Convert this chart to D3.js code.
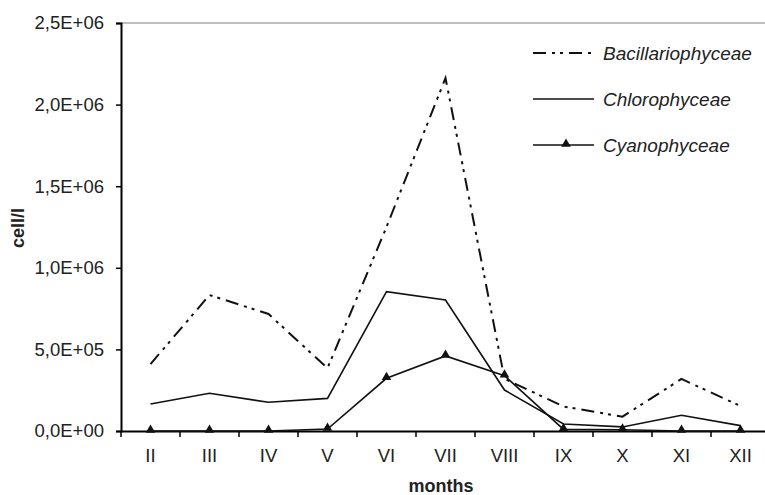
<!DOCTYPE html>
<html><head><meta charset="utf-8">
<script src="https://cdn.jsdelivr.net/npm/d3@7"></script>
<style>body{margin:0;background:#fff}svg{display:block}text{font-family:"Liberation Sans",Arial,sans-serif}</style>
</head><body>
<svg id="c" width="765" height="495"></svg>
<script>
const months = ["II","III","IV","V","VI","VII","VIII","IX","X","XI","XII"];
const bacillariophyceae = [410000, 833000, 717000, 385000, 1250000, 2163000, 320000, 150000, 88000, 319000, 153000];
const chlorophyceae = [165000, 231000, 176000, 200000, 854000, 803000, 251000, 43000, 25000, 96000, 33000];
const cyanophyceae = [0, 0, 0, 12000, 323000, 460000, 339000, 10000, 8000, 0, 0];
const yTicks = [0, 500000, 1000000, 1500000, 2000000, 2500000];
const yTickLabels = ["0,0E+00","5,0E+05","1,0E+06","1,5E+06","2,0E+06","2,5E+06"];
const seriesNames = ["Bacillariophyceae","Chlorophyceae","Cyanophyceae"];

const svg = d3.select("#c");
const L = 121, R = 770, T = 23, B = 431;
const FONT = "Liberation Sans, Arial, sans-serif";
const x = d3.scaleBand().domain(months).range([L, R]);
const y = d3.scaleLinear().domain([0, 2500000]).range([B, T]);

// top border
svg.append("line").attr("x1", L).attr("x2", 765).attr("y1", T).attr("y2", T)
  .attr("stroke", "#aaa").attr("stroke-width", 1.5);

// y axis
const ya = svg.append("g").attr("transform", `translate(${L},0)`)
  .call(d3.axisLeft(y).tickValues(yTicks).tickFormat((d,i)=>yTickLabels[i]).tickSize(5).tickPadding(12));
ya.select(".domain").attr("stroke","#000").attr("stroke-width",2);
ya.selectAll(".tick line").attr("stroke","#000").attr("stroke-width",1.5);
ya.selectAll("text").attr("font-size",18.5).attr("fill","#222").attr("font-family",FONT);

// x axis
const xa = svg.append("g").attr("transform", `translate(0,${B})`)
  .call(d3.axisBottom(x).tickSize(0).tickPadding(18));
xa.select(".domain").attr("stroke","#000").attr("stroke-width",2.2);
xa.selectAll("text").attr("font-size",18.5).attr("fill","#222").attr("font-family",FONT);
// boundary ticks
svg.append("g").selectAll("line").data(months.concat(["end"])).join("line")
  .attr("x1",(d,i)=> i < months.length ? x(d) : x(months[months.length-1]) + x.bandwidth())
  .attr("x2",(d,i)=> i < months.length ? x(d) : x(months[months.length-1]) + x.bandwidth())
  .attr("y1",B).attr("y2",B+6).attr("stroke","#000").attr("stroke-width",1.5);

const cx = d => x(d) + x.bandwidth()/2;
const line = d3.line().x((d,i)=>cx(months[i])).y(d=>y(d));

const dashPat = "13,6,3,5,3,6";
svg.append("path").datum(bacillariophyceae).attr("d", line).attr("fill","none")
  .attr("stroke","#111").attr("stroke-width",2).attr("stroke-dasharray", dashPat);
svg.append("path").datum(chlorophyceae).attr("d", line).attr("fill","none")
  .attr("stroke","#111").attr("stroke-width",1.6);
svg.append("path").datum(cyanophyceae).attr("d", line).attr("fill","none")
  .attr("stroke","#111").attr("stroke-width",1.6);
const tri = d3.symbol().type(d3.symbolTriangle).size(40);
svg.append("g").selectAll("path").data(cyanophyceae).join("path")
  .attr("d", tri).attr("fill","#111")
  .attr("transform",(d,i)=>`translate(${cx(months[i])},${y(d)-1})`);

// axis titles
svg.append("text").attr("x", 441).attr("y", 492).attr("text-anchor","middle").attr("font-family",FONT)
  .attr("font-size",18).attr("font-weight","bold").attr("fill","#222").text("months");
svg.append("text").attr("transform","translate(24,228) rotate(-90)").attr("text-anchor","middle").attr("font-family",FONT)
  .attr("font-size",18).attr("font-weight","bold").attr("fill","#222").text("cell/l");

// legend
const lg = svg.append("g");
const ly = [53, 99, 145];
seriesNames.forEach((n,i)=>{
  lg.append("line").attr("x1",533).attr("x2",594).attr("y1",ly[i]).attr("y2",ly[i])
    .attr("stroke","#111").attr("stroke-width", i===0?2:1.6)
    .attr("stroke-dasharray", i===0?dashPat:null);
  if(i===2) lg.append("path").attr("d",tri).attr("fill","#111").attr("transform",`translate(566,${ly[i]-1})`);
  lg.append("text").attr("x",603).attr("y",ly[i]+6.5).attr("font-size",19).attr("font-style","italic").attr("font-family",FONT)
    .attr("fill","#222").text(n);
});
</script>
</body></html>
